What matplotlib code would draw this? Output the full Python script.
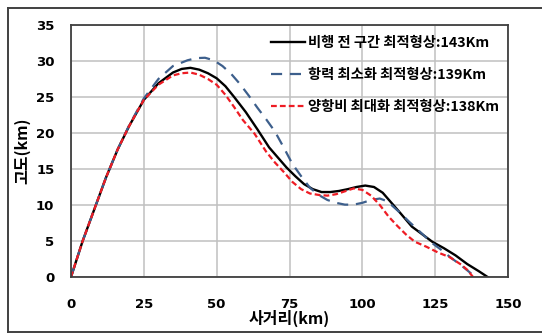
import matplotlib.pyplot as plt
from matplotlib.lines import Line2D

# 비행 전 구간 최적형상 (143 km)
x_full = [0, 4, 8, 12, 16, 20, 25, 30, 35, 38, 41, 44, 47, 50, 53, 56, 60, 64, 68, 71,
          74, 77, 80, 83, 86, 89, 92, 95, 98, 101, 104, 107, 110, 113, 117, 121, 124,
          128, 132, 136, 140, 143]
y_full = [0, 5, 9.4, 13.8, 17.7, 21, 24.6, 26.9, 28.4, 28.9, 29.05, 28.8, 28.3, 27.6,
          26.5, 25, 22.9, 20.5, 18, 16.6, 15.2, 14, 12.9, 12.2, 11.8, 11.8, 11.95, 12.2,
          12.5, 12.7, 12.5, 11.7, 10.3, 8.9, 7.0, 5.8, 4.9, 4.0, 3.0, 1.8, 0.8, 0]

# 항력 최소화 최적형상 (139 km)
x_drag = [0, 4, 8, 12, 16, 20, 25, 30, 35, 40, 43, 46, 49, 52, 55, 58, 61, 64, 67, 70,
          73, 76, 79, 82, 85, 88, 91, 94, 97, 100, 103, 106, 108, 110, 113, 116, 120,
          124, 127, 130, 134, 137, 139]
y_drag = [0, 5, 9.4, 13.8, 17.7, 21.1, 24.8, 27.5, 29.3, 30.1, 30.4, 30.45, 30.1, 29.3,
          28.2, 26.8, 25.2, 23.5, 21.9, 20.2, 18, 15.7, 14, 12.4, 11.4, 10.7, 10.3, 10.05,
          10.05, 10.3, 10.7, 10.9, 10.6, 10, 8.9, 7.7, 6.2, 4.7, 3.8, 2.8, 1.6, 0.6, 0]

# 양항비 최대화 최적형상 (138 km)
x_ld = [0, 4, 8, 12, 16, 20, 25, 30, 35, 38, 41, 44, 47, 50, 53, 56, 59, 63, 67, 70, 73,
        76, 79, 82, 85, 88, 91, 94, 97, 100, 103, 106, 109, 112, 115, 118, 122, 126, 130,
        134, 136, 138]
y_ld = [0, 5, 9.4, 13.8, 17.7, 21, 24.6, 26.7, 28, 28.3, 28.4, 28.1, 27.5, 26.7, 25.3,
        23.6, 21.8, 19.9, 17.4, 15.9, 14.6, 13.2, 12.2, 11.6, 11.4, 11.3, 11.5, 11.9,
        12.3, 12.1, 11.3, 10.0, 8.4, 7.1, 5.9, 4.9, 4.2, 3.4, 2.75, 1.7, 1.0, 0]

labels = ["비행 전 구간 최적형상:143Km", "항력 최소화 최적형상:139Km", "양항비 최대화 최적형상:138Km"]

kr = ["Noto Sans CJK KR", "DejaVu Sans"]

fig = plt.figure(figsize=(5.42, 3.33), dpi=100)
ax = fig.add_axes([71 / 542, 56 / 333, 437 / 542, 252 / 333])

ax.plot(x_full, y_full, color="black", lw=1.7, solid_joinstyle="round")
ax.plot(x_drag, y_drag, color="#3d5f8c", lw=1.6, dashes=(5, 3.5))
ax.plot(x_ld, y_ld, color="#ee1c24", lw=1.6, dashes=(2.6, 1.4))

ax.set_xlim(0, 150)
ax.set_ylim(0, 35)
ax.set_xticks([0, 25, 50, 75, 100, 125, 150])
ax.set_yticks([0, 5, 10, 15, 20, 25, 30, 35])
ax.grid(True, color="#c0c0c0", lw=1.1)
ax.set_axisbelow(True)
ax.tick_params(length=0)
ax.tick_params(axis="x", pad=15)
ax.tick_params(axis="y", pad=12)
for t in ax.get_xticklabels() + ax.get_yticklabels():
    t.set_fontweight("bold")
    t.set_fontsize(9.5)
    t.set_family("DejaVu Sans")
for s in ax.spines.values():
    s.set_color("#404040")
    s.set_linewidth(1.3)

ax.set_xlabel("사거리(km)", family=kr, fontweight="bold", fontsize=11.5, labelpad=-1)
ax.set_ylabel("고도(km)", family=kr, fontweight="bold", fontsize=11.5, labelpad=4)

handles = [
    Line2D([], [], color="black", lw=1.7),
    Line2D([], [], color="#3d5f8c", lw=1.6, dashes=(5, 3.5)),
    Line2D([], [], color="#ee1c24", lw=1.6, dashes=(2.6, 1.4)),
]
leg = ax.legend(handles, labels, loc="upper right", frameon=False,
                prop={"family": kr, "weight": "bold", "size": 10.3},
                handlelength=2.4, handletextpad=0.25, labelspacing=1.25,
                borderaxespad=0.2, bbox_to_anchor=(1.0, 0.99))

# outer frame around the whole picture
frame = [((8, 8), (8, 332)), ((8, 542), (8, 8)), ((8, 542), (332, 332))]
for xs, ys in frame:
    fig.add_artist(Line2D([v / 542 for v in xs], [1 - v / 333 for v in ys],
                          color="#404040", lw=1.4))

fig.savefig("out.png", dpi=100)
